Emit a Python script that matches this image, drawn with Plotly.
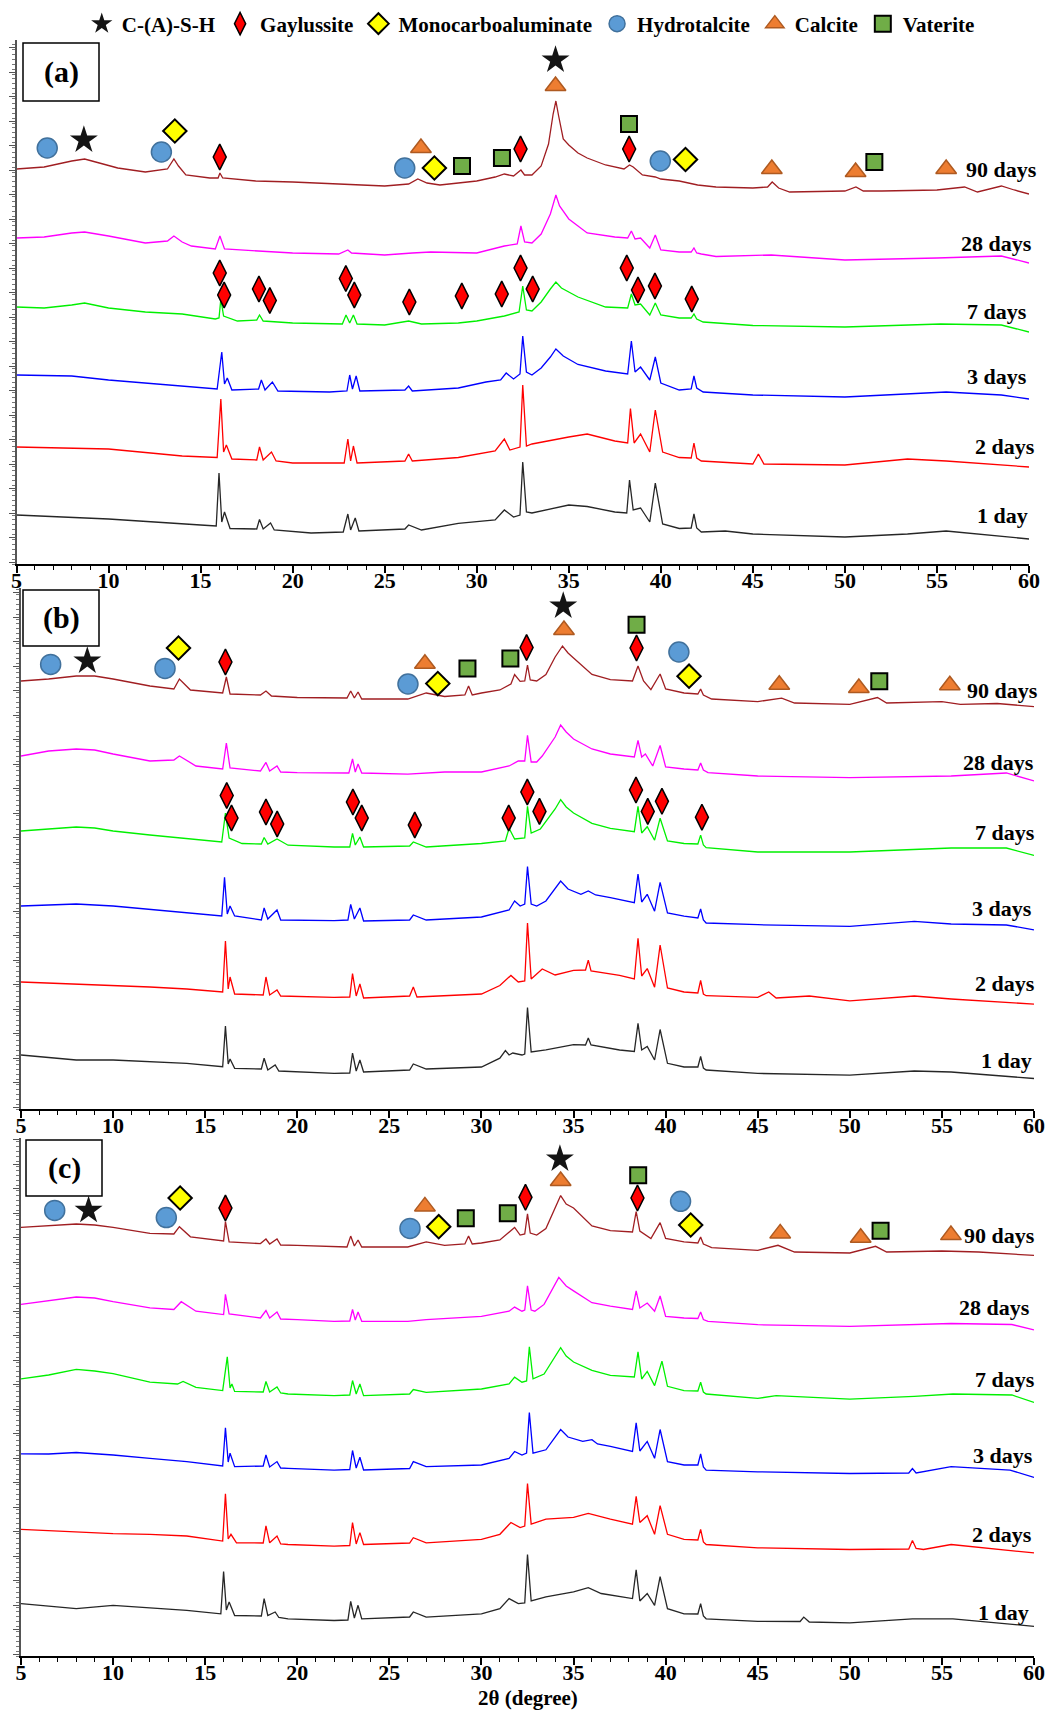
import plotly.graph_objects as go

# ---------------------------------------------------------------
# Stacked XRD patterns: (2θ in degrees, stacked intensity in a.u.)
# ---------------------------------------------------------------

# ---- panel (a) ----
A_90D = [(5.0, 395), (6.5, 397), (8.0, 403), (8.7, 405), (9.5, 401), (10.5, 396), (12.0, 392),
         (13.2, 395), (13.55, 405), (13.8, 398), (14.2, 389), (15.5, 386), (15.95, 386), (16.05, 391),
         (16.2, 386), (18.0, 383), (20.0, 382), (22.5, 380), (25.0, 378), (26.3, 380), (26.8, 385),
         (27.3, 381), (28.0, 379), (29.0, 381), (30.0, 383), (31.0, 387), (31.5, 390), (32.0, 388),
         (32.4, 394), (32.6, 389), (33.0, 389), (33.5, 398), (33.9, 420), (34.15, 450), (34.3, 463),
         (34.45, 448), (34.7, 425), (35.0, 419), (35.5, 411), (36.0, 406), (37.0, 399), (38.0, 395),
         (38.3, 399), (38.5, 397), (39.0, 389), (39.7, 387), (40.0, 385), (41.0, 383), (42.0, 379),
         (43.0, 377), (45.0, 376), (45.8, 377), (46.05, 382), (46.4, 376), (47.0, 372), (50.0, 373),
         (50.6, 377), (51.0, 373), (52.0, 373), (55.0, 374), (56.5, 377), (57.2, 372), (58.5, 378),
         (59.2, 374), (60.0, 370)]
A_28D = [(5.0, 326), (6.5, 327), (8.0, 331), (8.7, 332), (10.0, 328), (12.0, 321), (13.2, 323),
         (13.55, 328), (14.0, 322), (14.5, 318), (15.8, 315), (16.05, 328), (16.3, 315), (18.0, 313),
         (20.0, 311), (22.5, 310), (23.0, 314), (23.2, 311), (25.0, 309), (26.5, 311), (27.5, 312),
         (30.0, 311), (31.5, 318), (32.2, 320), (32.4, 338), (32.6, 322), (33.0, 321), (33.5, 330),
         (34.0, 350), (34.3, 369), (34.5, 358), (35.0, 345), (36.0, 331), (37.5, 327), (38.2, 326),
         (38.4, 333), (38.6, 325), (38.9, 326), (39.4, 316), (39.7, 329), (40.0, 314), (41.0, 312),
         (41.65, 312), (41.8, 316), (41.95, 311), (42.2, 310), (43.0, 307.5), (46.0, 309), (50.0, 304),
         (55.0, 306), (58.5, 308), (60.0, 301)]
A_7D = [(5.0, 257), (6.5, 256), (8.0, 259), (8.7, 261), (10.0, 256), (12.0, 252), (14.0, 250),
        (15.8, 245), (16.0, 246), (16.1, 265), (16.25, 248), (17.0, 243), (18.05, 244), (18.2, 249),
        (18.4, 243), (20.0, 241), (22.7, 240), (22.9, 249), (23.1, 241), (23.3, 249), (23.5, 240),
        (25.0, 239), (26.3, 243), (27.0, 240), (29.0, 241), (30.0, 243), (31.5, 248), (32.3, 252),
        (32.5, 278), (32.7, 254), (33.0, 253), (33.5, 262), (34.0, 275), (34.3, 282), (34.6, 276),
        (35.5, 267), (37.0, 257), (38.2, 256), (38.4, 270), (38.6, 259), (38.9, 260), (39.4, 249),
        (39.7, 261), (40.0, 249), (41.0, 246), (41.65, 246), (41.8, 250), (41.95, 245), (42.3, 242),
        (45.0, 238.5), (50.0, 237), (55.2, 240), (58.5, 239), (60.0, 232)]
A_3D = [(5.0, 189), (8.0, 188), (10.0, 184), (12.0, 181), (14.0, 177.5), (15.9, 175), (16.15, 212),
        (16.3, 180), (16.45, 186), (16.7, 174), (18.15, 175), (18.3, 184), (18.5, 174), (18.9, 182),
        (19.2, 173), (22.0, 172), (22.95, 173), (23.1, 189), (23.25, 175), (23.45, 188), (23.65, 173),
        (26.1, 174), (26.3, 178), (26.5, 173), (29.0, 176), (30.5, 182), (31.3, 184), (31.6, 191),
        (32.0, 185), (32.35, 190), (32.5, 228), (32.7, 192), (33.0, 189), (33.5, 196), (34.0, 207),
        (34.3, 215), (34.7, 208), (35.5, 199.5), (37.0, 193), (38.2, 190), (38.4, 223), (38.6, 192),
        (38.9, 197), (39.4, 184), (39.7, 207), (40.0, 181), (41.0, 174), (41.65, 175), (41.8, 188),
        (41.95, 176), (42.3, 172), (45.0, 169), (50.0, 167), (55.5, 172), (58.5, 169), (60.0, 165)]
A_2D = [(5.0, 117), (10.0, 115), (14.0, 108), (15.9, 106.5), (16.1, 165), (16.25, 112), (16.4, 119),
        (16.7, 105), (18.05, 104), (18.2, 117), (18.4, 104), (18.85, 112), (19.1, 103), (20.0, 101),
        (22.8, 101), (23.0, 125), (23.15, 103), (23.3, 118), (23.5, 101), (26.1, 103), (26.3, 110),
        (26.5, 103), (29.0, 106.5), (31.0, 113), (31.5, 125), (31.8, 114), (32.35, 117), (32.5, 179),
        (32.7, 118), (33.0, 120), (35.0, 127), (36.0, 130), (37.5, 123), (38.2, 121), (38.35, 155.5),
        (38.55, 121), (38.9, 130), (39.4, 112), (39.7, 154), (40.1, 112), (41.0, 106.5), (41.65, 106),
        (41.8, 121), (41.95, 106), (42.2, 103), (45.0, 100), (45.3, 110), (45.6, 100), (50.0, 99),
        (53.4, 105), (55.5, 103), (60.0, 97)]
A_1D = [(5.0, 49), (10.0, 45), (15.0, 39), (15.85, 38), (16.0, 91), (16.15, 42), (16.3, 52),
        (16.6, 35.5), (18.05, 35), (18.2, 44.6), (18.4, 35), (18.8, 41), (19.0, 34), (21.0, 31),
        (22.75, 32), (23.0, 50), (23.15, 34), (23.4, 46), (23.6, 33), (26.1, 35), (26.3, 39),
        (27.0, 34), (29.0, 40.6), (31.0, 44), (31.5, 54), (32.0, 47), (32.35, 49), (32.5, 102),
        (32.7, 52), (33.0, 51), (35.0, 59), (36.0, 57.5), (37.5, 52), (38.15, 51), (38.3, 84),
        (38.5, 54), (38.9, 56), (39.4, 42), (39.7, 81), (40.1, 40), (41.0, 35.5), (41.65, 36),
        (41.8, 50), (41.95, 36), (42.2, 32), (43.5, 33), (45.0, 30), (50.0, 27), (53.4, 30),
        (55.5, 33), (60.0, 25)]

# ---- panel (b) ----
B_90D = [(5.0, 428), (6.5, 430), (8.0, 433), (9.0, 433), (10.0, 430), (12.0, 423), (13.3, 420),
         (13.6, 430), (14.2, 419), (15.95, 416), (16.15, 432), (16.35, 415), (18.0, 414), (18.3, 418),
         (18.6, 413), (20.0, 411.5), (22.7, 411), (22.9, 418), (23.1, 411), (23.3, 417), (23.5, 410),
         (26.0, 410), (27.0, 416), (28.0, 412.5), (29.1, 414), (29.3, 423), (29.5, 414), (30.0, 416),
         (31.0, 419), (31.6, 425), (31.8, 434.5), (32.1, 427.7), (32.35, 428), (32.5, 444),
         (32.65, 429), (33.0, 428), (33.5, 434.5), (34.0, 452), (34.4, 463), (34.7, 456), (35.0, 451),
         (36.0, 434.5), (37.0, 429.4), (38.2, 428), (38.5, 443), (38.8, 428), (39.2, 419.3),
         (39.7, 435), (40.0, 420), (41.0, 416), (41.75, 415), (41.9, 420), (42.05, 414), (42.5, 410),
         (45.0, 407.4), (46.3, 410.8), (47.0, 406), (50.0, 404.7), (51.5, 411.5), (52.0, 406),
         (55.0, 407.4), (56.0, 404.7), (58.0, 405.5), (60.0, 402.4)]
B_28D = [(5.0, 353), (6.5, 358), (8.0, 360), (9.0, 359), (10.0, 355), (12.0, 348), (13.3, 349),
         (13.6, 353), (14.5, 343), (15.95, 340), (16.15, 366), (16.35, 341), (18.0, 338), (18.3, 346.6),
         (18.5, 338), (18.9, 343), (19.1, 337), (20.0, 336.4), (22.8, 336), (23.0, 350), (23.15, 337),
         (23.3, 345), (23.5, 336), (26.0, 334.8), (28.0, 337), (30.0, 337), (31.5, 343), (32.0, 348),
         (32.35, 348), (32.5, 373.6), (32.7, 347), (33.0, 347), (33.3, 353), (34.0, 372), (34.3, 384),
         (34.6, 377), (35.0, 370), (36.0, 360), (37.0, 355), (38.3, 352), (38.5, 368.6), (38.7, 352),
         (38.9, 355), (39.3, 343), (39.7, 363.5), (40.0, 342), (41.0, 340), (41.75, 339), (41.9, 346),
         (42.05, 339), (42.3, 336.4), (45.0, 333), (50.0, 331.4), (55.5, 333), (58.5, 336), (60.0, 328)]
B_7D = [(5.0, 278), (6.5, 280), (8.0, 282), (9.0, 281), (10.0, 278), (12.0, 274), (14.0, 270.5),
        (15.9, 267), (16.1, 296), (16.3, 271), (17.0, 265.5), (18.05, 265), (18.2, 271.5), (18.4, 265),
        (18.9, 270), (19.5, 263.8), (22.0, 262), (22.85, 262), (23.0, 275.6), (23.15, 264), (23.4, 272),
        (23.6, 262), (26.1, 263), (26.3, 267), (27.0, 262), (30.0, 265.5), (31.3, 268), (31.5, 280.7),
        (31.8, 270), (32.35, 271), (32.5, 302.6), (32.7, 276), (33.2, 280), (34.0, 300), (34.3, 309.4),
        (34.6, 302), (35.0, 296), (36.0, 285.7), (37.0, 280.7), (38.3, 277.3), (38.5, 302.6),
        (38.7, 276), (39.0, 282.3), (39.4, 268.8), (39.7, 290.8), (40.1, 268), (41.0, 265.5),
        (41.75, 265), (41.9, 273.9), (42.05, 264), (42.2, 261.4), (45.0, 257), (50.0, 257),
        (55.5, 261), (58.5, 261), (60.0, 253.6)]
B_3D = [(5.0, 203), (6.5, 204), (8.0, 205), (10.0, 203), (12.0, 199.5), (14.0, 196), (15.9, 193),
        (16.05, 231.6), (16.2, 195), (16.35, 203), (16.6, 193), (18.05, 189), (18.2, 201), (18.4, 190),
        (18.9, 199), (19.1, 189), (22.0, 188.4), (22.75, 189), (22.9, 204.6), (23.1, 190), (23.4, 201),
        (23.6, 188), (26.1, 189), (26.3, 194), (27.0, 189), (30.0, 192), (31.5, 199), (31.8, 208),
        (32.1, 203), (32.35, 205), (32.5, 242.5), (32.7, 205), (33.0, 203), (33.5, 208), (34.3, 228),
        (34.7, 220), (35.4, 214.7), (35.8, 218), (36.2, 214), (37.0, 211.4), (38.3, 206.3), (38.5, 235),
        (38.7, 207), (39.0, 214.7), (39.4, 197.8), (39.7, 226.6), (40.1, 196), (41.0, 192.8),
        (41.75, 191), (41.9, 200), (42.05, 189), (42.2, 186), (45.0, 184.3), (50.0, 182.6),
        (53.5, 187.7), (55.5, 185), (58.5, 184), (60.0, 179.2)]
B_2D = [(5.0, 127), (8.0, 125), (10.0, 124), (12.0, 122), (14.0, 120), (15.95, 117), (16.1, 168),
        (16.25, 120), (16.35, 132), (16.6, 115), (18.15, 114), (18.3, 132), (18.5, 114), (18.9, 119),
        (19.1, 113), (22.0, 111.6), (22.85, 112), (23.0, 135.3), (23.2, 113), (23.4, 125), (23.6, 111),
        (26.1, 113), (26.3, 122), (26.5, 112), (30.0, 115), (31.0, 123.5), (31.6, 133.6), (32.0, 127),
        (32.35, 128), (32.5, 186), (32.7, 130), (33.3, 140), (34.0, 134), (35.0, 138.7), (35.65, 139),
        (35.8, 148.8), (35.95, 138), (37.5, 133.6), (38.3, 130), (38.5, 170.8), (38.7, 133),
        (39.0, 140.4), (39.4, 121.8), (39.7, 164), (40.1, 121), (41.0, 117), (41.75, 116),
        (41.9, 128.5), (42.05, 115), (42.2, 113.3), (45.0, 111.6), (45.6, 117), (46.0, 111),
        (47.8, 113), (50.0, 108.2), (53.5, 113), (55.5, 110), (60.0, 104.9)]
B_1D = [(5.0, 54), (8.0, 49), (10.0, 49), (12.0, 47.4), (14.0, 45.7), (15.95, 42.3), (16.1, 82.9),
        (16.25, 45), (16.35, 50), (16.6, 40.6), (18.05, 40), (18.2, 50.8), (18.4, 39), (18.8, 44),
        (19.0, 38), (22.0, 35.6), (22.85, 36), (23.0, 55.9), (23.2, 38), (23.4, 49), (23.6, 37),
        (26.1, 39), (26.3, 45), (27.0, 40), (30.0, 42), (31.0, 50.8), (31.3, 58.5), (31.5, 54),
        (31.7, 56), (32.2, 54), (32.35, 55), (32.5, 101.5), (32.7, 57), (33.5, 59.2), (35.0, 64.3),
        (35.65, 64), (35.8, 71), (35.95, 64), (36.5, 62), (37.5, 59), (38.3, 57.5), (38.5, 85.6),
        (38.7, 59), (39.0, 62.6), (39.4, 49), (39.7, 79.5), (40.1, 45.7), (41.0, 42), (41.75, 42),
        (41.9, 52.5), (42.05, 41), (42.2, 39), (45.0, 35.6), (50.0, 33.9), (53.5, 38), (55.5, 37),
        (60.0, 30.5)]

# ---- panel (c) ----
C_90D = [(5.0, 428.6), (6.5, 430), (8.0, 432), (9.0, 431), (10.0, 428.6), (12.0, 422.6), (13.3, 422),
         (13.6, 429.3), (14.2, 419.2), (16.0, 415), (16.1, 434.4), (16.3, 414), (18.0, 412.4),
         (18.3, 417), (18.5, 412), (18.9, 417), (19.1, 411), (20.0, 410.7), (22.7, 409), (22.9, 419.9),
         (23.1, 410), (23.3, 416), (23.5, 409), (26.0, 409), (27.0, 414.1), (28.0, 410.7), (29.1, 412),
         (29.3, 419.9), (29.5, 412), (30.0, 413), (31.0, 416), (31.8, 428.6), (32.1, 420.9),
         (32.35, 422), (32.5, 442.2), (32.65, 423), (33.0, 420.9), (33.5, 427.4), (34.0, 448),
         (34.3, 460.4), (34.6, 452), (35.0, 448), (36.0, 430), (37.0, 425.3), (38.2, 424),
         (38.4, 444.5), (38.6, 425), (39.2, 417.5), (39.7, 433.4), (40.0, 417.5), (41.0, 414.1),
         (41.75, 413), (41.9, 419), (42.05, 412), (42.5, 408.4), (45.0, 405.7), (46.1, 410.7),
         (47.0, 404), (50.0, 403), (51.4, 409.7), (52.0, 404), (55.0, 405), (57.0, 404), (60.0, 400.6)]
C_28D = [(5.0, 351.6), (6.5, 355), (8.0, 359), (9.0, 358), (10.0, 354.3), (12.0, 348.2), (13.3, 346.5),
         (13.7, 354.3), (14.5, 344.8), (16.0, 341.4), (16.1, 361.7), (16.3, 342), (18.0, 338),
         (18.3, 345.5), (18.5, 338), (18.9, 344), (19.1, 337), (20.0, 336.4), (22.0, 334.7),
         (22.85, 335), (23.0, 346.5), (23.15, 336), (23.3, 344), (23.5, 334.7), (26.0, 334.7),
         (27.0, 336.4), (28.5, 338), (30.0, 339.7), (31.5, 344.8), (31.8, 348.9), (32.2, 344.8),
         (32.35, 346), (32.5, 370.2), (32.7, 346), (32.9, 344.8), (33.4, 351.6), (34.2, 378.6),
         (34.6, 370), (35.0, 365.1), (36.0, 353.3), (37.0, 349.9), (38.2, 346.5), (38.4, 365.1),
         (38.6, 348), (39.0, 353), (39.4, 344.8), (39.7, 360), (40.0, 339.7), (41.0, 338),
         (41.75, 337.5), (41.9, 344), (42.05, 336.5), (42.3, 334.7), (45.0, 331.3), (50.0, 329.6),
         (53.5, 331.5), (55.5, 332.5), (58.8, 331.5), (60.0, 326.2)]
C_7D = [(5.0, 277.2), (6.5, 281), (8.0, 286.7), (9.0, 285), (10.0, 282.3), (12.0, 273.8), (13.5, 272),
        (13.8, 274.5), (14.5, 268.7), (15.95, 265.4), (16.2, 299.2), (16.35, 268), (16.45, 272),
        (16.6, 264.6), (18.15, 264), (18.3, 274.5), (18.5, 264), (18.9, 269), (19.1, 263), (19.5, 262),
        (22.0, 260.3), (22.85, 261), (23.0, 275.5), (23.2, 262), (23.4, 272), (23.6, 260.3),
        (26.1, 262), (26.3, 266.5), (27.0, 263.7), (30.0, 267), (31.5, 272), (31.8, 278.9),
        (32.2, 273.8), (32.45, 275), (32.6, 309.3), (32.8, 277.2), (33.4, 282), (34.0, 300),
        (34.3, 308.3), (34.6, 300), (35.0, 294), (36.0, 285.6), (37.0, 280.6), (38.3, 279),
        (38.5, 304.2), (38.7, 277), (39.0, 284.6), (39.4, 270.4), (39.8, 294.8), (40.1, 269.7),
        (41.0, 265.4), (41.75, 265), (41.9, 273.8), (42.05, 264), (42.2, 262), (45.0, 257.6),
        (46.0, 260.3), (50.0, 256.9), (53.5, 259.6), (55.6, 262), (58.8, 261), (60.0, 253.5)]
C_3D = [(5.0, 202.1), (6.5, 202), (8.0, 203.5), (10.0, 201), (12.0, 197.7), (14.0, 194.4), (15.95, 190),
        (16.1, 228.2), (16.25, 194), (16.35, 202.8), (16.6, 189.3), (18.15, 190), (18.3, 201),
        (18.5, 189), (18.9, 194.4), (19.1, 188), (19.5, 187.6), (22.0, 185.9), (22.85, 186.5),
        (23.0, 205.5), (23.2, 188), (23.4, 198.8), (23.6, 186), (26.1, 187.5), (26.3, 194.4),
        (27.0, 189.3), (30.0, 191), (31.5, 197.7), (31.8, 204.5), (32.2, 201), (32.45, 203),
        (32.6, 243.4), (32.8, 202.8), (33.5, 206.2), (34.3, 226.5), (34.7, 219), (35.5, 214.6),
        (36.0, 216.3), (36.3, 212), (37.0, 209.6), (38.2, 204.5), (38.4, 233.2), (38.6, 205),
        (39.0, 214.6), (39.4, 197.7), (39.7, 226.5), (40.1, 194.4), (41.0, 191), (41.75, 191),
        (41.9, 202), (42.05, 189), (42.2, 185.9), (45.0, 184.2), (50.0, 182.5), (53.2, 183),
        (53.4, 187.5), (53.6, 183), (55.5, 189.3), (58.7, 185.9), (60.0, 178.5)]
C_2D = [(5.0, 126.7), (8.0, 124.4), (10.0, 122.4), (12.0, 121.7), (14.0, 120), (15.95, 114.9),
        (16.1, 162.3), (16.25, 117), (16.4, 121.7), (16.7, 113.2), (18.15, 113), (18.3, 130.1),
        (18.5, 113.2), (18.9, 120), (19.1, 112), (19.5, 111.5), (22.0, 109.9), (22.85, 110.5),
        (23.0, 133.5), (23.2, 112), (23.4, 123.4), (23.6, 111.5), (26.1, 113), (26.3, 118.3),
        (27.0, 113.2), (30.0, 116.6), (31.0, 121.7), (31.6, 133.5), (32.1, 128.4), (32.35, 130),
        (32.5, 172.4), (32.7, 132), (33.5, 136.9), (35.0, 138.6), (35.8, 142.6), (37.0, 136.9),
        (38.2, 131.8), (38.4, 159.6), (38.6, 133.5), (39.0, 140.3), (39.4, 121.7), (39.7, 150.4),
        (40.1, 121.7), (41.0, 116.6), (41.75, 116), (41.9, 126.7), (42.05, 114), (42.2, 111.5),
        (45.0, 108.2), (50.0, 106.5), (53.2, 107), (53.4, 115.6), (53.6, 107.5), (54.0, 106.5),
        (55.5, 111.5), (60.0, 103.1)]
C_1D = [(5.0, 52.4), (8.0, 47.3), (10.0, 50.7), (12.0, 48), (14.0, 45.6), (15.85, 42.2), (16.0, 84.5),
        (16.15, 46), (16.3, 54), (16.6, 40.5), (18.05, 40), (18.2, 57.4), (18.4, 40.5), (18.8, 44),
        (19.0, 38.5), (19.5, 37.2), (22.0, 35.5), (22.75, 36), (22.9, 54.7), (23.1, 38), (23.3, 50.7),
        (23.5, 37.2), (26.1, 39), (26.3, 44), (27.0, 38.9), (30.0, 42.2), (31.0, 47.3), (31.5, 57.4),
        (32.0, 52.4), (32.35, 53), (32.5, 101.4), (32.7, 55), (33.5, 59.1), (35.0, 64.2), (35.8, 68.3),
        (36.5, 62.5), (37.5, 59.1), (38.2, 57.4), (38.4, 86.2), (38.6, 55), (39.0, 62.5), (39.4, 50.7),
        (39.7, 79.4), (40.1, 47.3), (41.0, 42.2), (41.75, 42), (41.9, 52.4), (42.05, 40), (42.2, 37.2),
        (45.0, 34.6), (47.3, 34.5), (47.5, 38.9), (47.8, 34), (50.0, 33.1), (53.4, 37.2),
        (55.6, 37.2), (60.0, 29.7)]

AGES = ["90 days", "28 days", "7 days", "3 days", "2 days", "1 day"]

# ---- phase identification markers: (2θ, stacked intensity) ----
A_CSH = [(8.66, 424), (34.28, 504)]
A_GAYLUSSITE = [(16.04, 407), (32.38, 415), (38.28, 415),
                (16.04, 291), (16.28, 269), (18.17, 275), (18.76, 263.5), (22.89, 285.5), (23.35, 269),
                (26.34, 262), (29.19, 268), (31.36, 270), (32.38, 296), (33.04, 275), (38.15, 296),
                (38.76, 274), (39.68, 278), (41.68, 265)]
A_MONOCARBO = [(13.6, 433), (27.7, 396), (41.34, 404.5)]
A_HYDROTALCITE = [(6.67, 416), (12.87, 412), (26.09, 396), (39.97, 403)]
A_CALCITE = [(26.97, 416), (34.28, 478), (46.03, 395), (50.58, 392), (55.5, 395)]
A_VATERITE = [(29.2, 398), (31.37, 406), (38.27, 440), (51.6, 402)]

B_CSH = [(8.6, 448), (34.44, 503)]
B_GAYLUSSITE = [(16.1, 447), (32.45, 461.5), (38.42, 461),
                (16.17, 313.5), (16.43, 291), (18.3, 297), (18.91, 285), (23.02, 307), (23.5, 291),
                (26.38, 284), (31.48, 291), (32.49, 317), (33.15, 297.6), (38.39, 319), (39.03, 297.6),
                (39.8, 307.7), (41.97, 291.8)]
B_MONOCARBO = [(13.55, 461), (27.63, 425.4), (41.27, 432.8)]
B_HYDROTALCITE = [(6.61, 444.6), (12.82, 440.6), (26.01, 425), (40.72, 457)]
B_CALCITE = [(26.93, 445.3), (34.48, 479), (46.17, 424.3), (50.49, 421), (55.43, 423.7)]
B_VATERITE = [(29.24, 440.6), (31.57, 450.4), (38.42, 484.2), (51.6, 427.7)]

C_CSH = [(8.67, 445.6), (34.26, 497)]
C_GAYLUSSITE = [(16.1, 448), (32.39, 458.7), (38.47, 458)]
C_MONOCARBO = [(13.64, 458), (27.68, 429.3), (41.36, 431)]
C_HYDROTALCITE = [(6.83, 445.6), (12.89, 438.4), (26.12, 427.6), (40.81, 454.7)]
C_CALCITE = [(26.93, 449.6), (34.3, 475), (46.22, 422.6), (50.59, 418.2), (55.49, 420.9)]
C_VATERITE = [(29.15, 437.8), (31.43, 442.8), (38.51, 480.7), (51.67, 425.3)]

PHASES = ["C-(A)-S-H", "Gaylussite", "Monocarboaluminate", "Hydrotalcite", "Calcite", "Vaterite"]

# ---------------------------------------------------------------
# Styling and page geometry (pixels of the 1051 x 1711 page)
# ---------------------------------------------------------------
W, H = 1051, 1711
SERIF = "Liberation Serif"

AGE_COLORS = {"90 days": "#A01E22", "28 days": "#FF00FF", "7 days": "#00F000",
              "3 days": "#0000FF", "2 days": "#FF0000", "1 day": "#262626"}

PHASE_MARKERS = {
    "C-(A)-S-H": dict(symbol="star", size=21, color="#141414", line=dict(width=0)),
    "Gaylussite": dict(symbol="diamond-tall", size=18.5, color="#FF0000",
                       line=dict(color="black", width=1.5)),
    "Monocarboaluminate": dict(symbol="diamond", size=18, color="#FFFF00",
                               line=dict(color="black", width=2)),
    "Hydrotalcite": dict(symbol="circle", size=20, color="#5B9BD5",
                         line=dict(color="#41719C", width=1.5)),
    "Calcite": dict(symbol="triangle-up", size=18, color="#ED7D31",
                    line=dict(color="#AE5A21", width=1.5)),
    "Vaterite": dict(symbol="square", size=16, color="#70AD47",
                     line=dict(color="black", width=2)),
}

# panel frames: x pixel span, y pixel span (top, x-axis line)
PANEL_GEOM = [
    dict(x0=16.5, x1=1029, top=40, axis=564),
    dict(x0=21, x1=1034, top=588, axis=1109),
    dict(x0=21, x1=1034, top=1138, axis=1656),
]
# label box (left, top, right, bottom) in pixels
LABEL_BOXES = [(23, 43, 99, 101), (23, 590, 99, 646), (26, 1140, 102, 1196)]
PANEL_NAMES = ["(a)", "(b)", "(c)"]
# vertical placement of the age labels and small horizontal nudges
AGE_LABEL_Y = [[395, 321, 253, 188, 118, 49],
               [418, 346, 276, 200, 125, 49],
               [421, 349, 277, 201, 122, 44]]
AGE_LABEL_SHIFT = [[10, 5, 0, 0, 8, 1],
                   [6, 2, 3, 0, 3, 0],
                   [3, -2, 3, 1, 0, -3]]

PATTERNS = [
    [A_90D, A_28D, A_7D, A_3D, A_2D, A_1D],
    [B_90D, B_28D, B_7D, B_3D, B_2D, B_1D],
    [C_90D, C_28D, C_7D, C_3D, C_2D, C_1D],
]
MARKERS = [
    [A_CSH, A_GAYLUSSITE, A_MONOCARBO, A_HYDROTALCITE, A_CALCITE, A_VATERITE],
    [B_CSH, B_GAYLUSSITE, B_MONOCARBO, B_HYDROTALCITE, B_CALCITE, B_VATERITE],
    [C_CSH, C_GAYLUSSITE, C_MONOCARBO, C_HYDROTALCITE, C_CALCITE, C_VATERITE],
]


def split(points):
    return [p[0] for p in points], [p[1] for p in points]


fig = go.Figure()

for i in range(3):
    xa = "x" if i == 0 else f"x{i + 1}"
    ya = "y" if i == 0 else f"y{i + 1}"
    # diffraction patterns
    for age, pts in zip(AGES, PATTERNS[i]):
        xs, ys = split(pts)
        fig.add_trace(go.Scatter(
            x=xs, y=ys, mode="lines", xaxis=xa, yaxis=ya, showlegend=False,
            line=dict(color=AGE_COLORS[age], width=1.3), name=age, hoverinfo="skip"))
    # phase markers
    for phase, pts in zip(PHASES, MARKERS[i]):
        xs, ys = split(pts)
        fig.add_trace(go.Scatter(
            x=xs, y=ys, mode="markers", xaxis=xa, yaxis=ya, name=phase,
            legendgroup=phase, showlegend=(i == 0), marker=PHASE_MARKERS[phase]))

layout = dict(
    width=W, height=H,
    margin=dict(l=0, r=0, t=0, b=0),
    paper_bgcolor="white", plot_bgcolor="white",
    font=dict(family=SERIF, color="black"),
    legend=dict(orientation="h", x=0.505, xanchor="center", y=1 - 24 / H, yanchor="middle",
                font=dict(family=SERIF, size=21, color="black", weight="bold"),
                bgcolor="rgba(0,0,0,0)", itemwidth=30, tracegroupgap=0),
)

shapes = []
annotations = []
for i, g in enumerate(PANEL_GEOM):
    sfx = "" if i == 0 else str(i + 1)
    ymax = g["axis"] - g["top"]
    layout["xaxis" + sfx] = dict(
        domain=[g["x0"] / W, g["x1"] / W], range=[5, 60], anchor="y" + sfx,
        showline=True, linecolor="black", linewidth=2, showgrid=False, zeroline=False,
        ticks="outside", ticklen=7, tickwidth=1.5, tickcolor="black",
        tick0=5, dtick=5, automargin=False, ticklabelstandoff=-11,
        minor=dict(dtick=1, ticks="outside", ticklen=4, tickcolor="black", tickwidth=1),
        tickfont=dict(family=SERIF, size=22, color="black", weight="bold"),
    )
    layout["yaxis" + sfx] = dict(
        domain=[1 - g["axis"] / H, 1 - g["top"] / H], range=[0, ymax], anchor="x" + sfx,
        showline=True, linecolor="#555555", linewidth=1.5, showgrid=False, zeroline=False,
        showticklabels=False, ticks="outside", ticklen=6, tickcolor="#555555",
        tick0=2, dtick=24.5, automargin=False,
        minor=dict(dtick=4.9, ticks="outside", ticklen=3, tickcolor="#777777"),
    )
    # panel label box
    bx0, by0, bx1, by1 = LABEL_BOXES[i]
    shapes.append(dict(type="rect", xref="paper", yref="paper",
                       x0=bx0 / W, x1=bx1 / W, y0=1 - by1 / H, y1=1 - by0 / H,
                       line=dict(color="black", width=1.5), fillcolor="white"))
    annotations.append(dict(text=PANEL_NAMES[i], xref="paper", yref="paper",
                            x=(bx0 + bx1) / 2 / W, y=1 - (by0 + by1) / 2 / H,
                            showarrow=False, xanchor="center", yanchor="middle",
                            font=dict(family=SERIF, size=30, color="black", weight="bold")))
    # age labels at the right end of each pattern
    for age, ly, sh in zip(AGES, AGE_LABEL_Y[i], AGE_LABEL_SHIFT[i]):
        annotations.append(dict(text=age, xref="x" + sfx, yref="y" + sfx, x=60, y=ly,
                                xanchor="right", yanchor="middle", xshift=sh, showarrow=False,
                                font=dict(family=SERIF, size=22, color="black", weight="bold")))

# common x-axis title under the bottom panel
annotations.append(dict(text="2θ (degree)", xref="paper", yref="paper",
                        x=(PANEL_GEOM[2]["x0"] + PANEL_GEOM[2]["x1"]) / 2 / W, y=1 - 1698 / H,
                        xanchor="center", yanchor="middle", showarrow=False,
                        font=dict(family=SERIF, size=21, color="black", weight="bold")))

layout["shapes"] = shapes
layout["annotations"] = annotations
fig.update_layout(**layout)

fig.write_html("out.html")
